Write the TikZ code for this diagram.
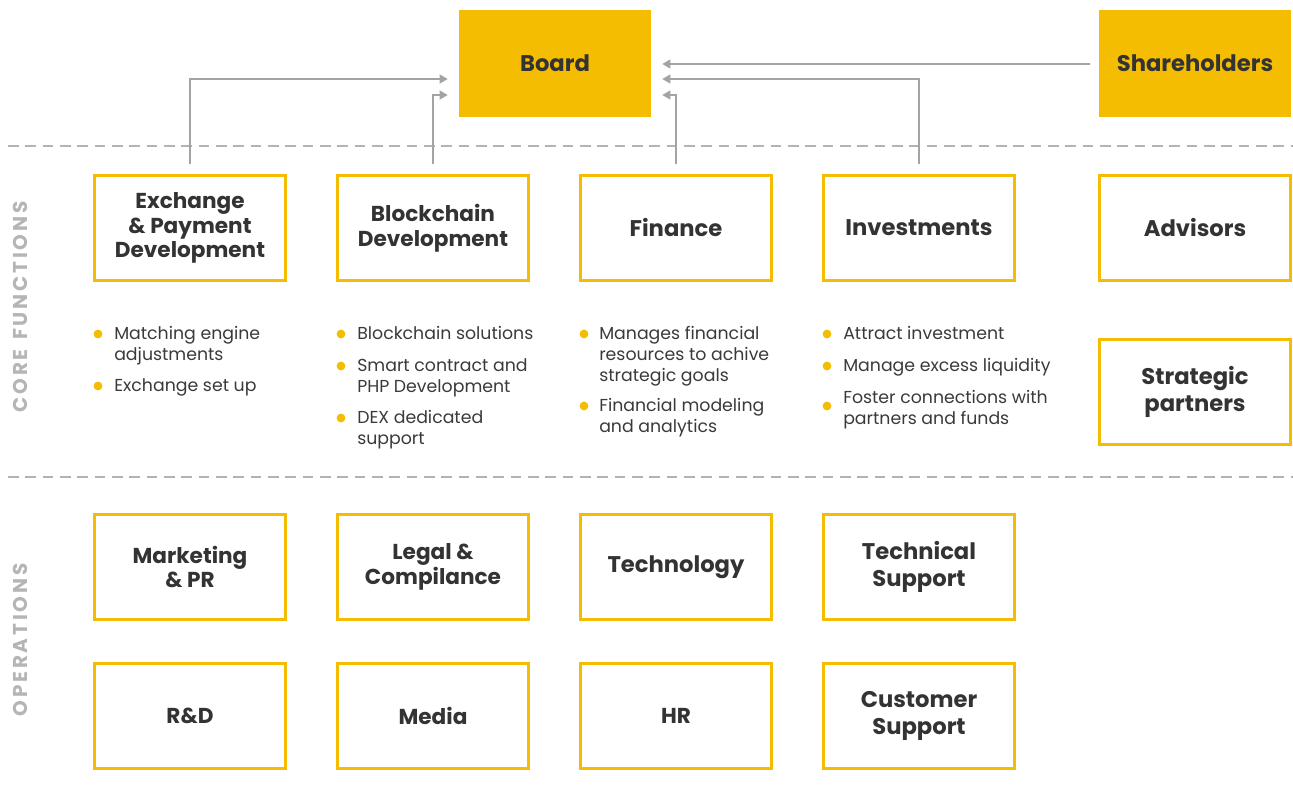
\documentclass[tikz,border=0pt]{standalone}
\usepackage{fontspec}
\setmainfont{Poppins}
\usetikzlibrary{arrows.meta,calc}

\definecolor{brandyellow}{HTML}{F5BD02}
\definecolor{ink}{HTML}{333333}
\definecolor{bodyink}{HTML}{3A3A3A}
\definecolor{linkgray}{HTML}{A3A3A3}
\definecolor{divgray}{HTML}{B3B3B3}
\definecolor{sidegray}{HTML}{B5B5B5}

\newcommand\boxfont{\bfseries\fontsize{16.2}{18.6}\selectfont}
\newcommand\bigboxfont{\bfseries\fontsize{17}{20}\selectfont}
\newcommand\itemfont{\fontsize{13}{15.75}\selectfont}
\newcommand\itemtext[1]{\parbox[t]{180pt}{\raggedright #1}}

\begin{document}
\begin{tikzpicture}[x=0.75pt,y=-0.75pt,
  unitbox/.style={draw=brandyellow,line width=2.25pt,minimum width=143.25pt,
    minimum height=78.75pt,inner sep=0pt,align=center,font=\boxfont,text=ink},
  bigunit/.style={unitbox,font=\bigboxfont},
  topbox/.style={fill=brandyellow,minimum width=144pt,minimum height=80.25pt,
    inner sep=0pt,align=center,font=\bigboxfont,text=ink},
  link/.style={draw=linkgray,line width=1.5pt,-{Triangle[width=6.5pt,length=6pt]}},
  divider/.style={draw=divgray,line width=1.1pt,dash pattern=on 8pt off 5pt},
  sidelabel/.style={rotate=90,text=sidegray,
    font=\bfseries\fontsize{15}{18}\selectfont\addfontfeatures{LetterSpace=14}},
  bullettext/.style={anchor=base west,inner sep=0pt,font=\itemfont,text=bodyink},
  dot/.style={fill=brandyellow},
]
\useasboundingbox (0,0) rectangle (1293,805);

% governance
\node[topbox] (board) at (555,63.5) {Board};
\node[topbox] (share) at (1195,63.5) {Shareholders};

% section dividers
\draw[divider] (8,146) -- (1293,146);
\draw[divider] (8,477) -- (1293,477);

% section labels
\node[sidelabel] (core) at (20,307) {CORE\hspace{7pt}FUNCTIONS};
\node[sidelabel] (ops) at (20,640) {OPERATIONS};

% core functions
\node[unitbox] (exch) at (190,228) {Exchange\\\& Payment\\Development};
\node[unitbox] (chain) at (433,228) {Blockchain\\Development};
\node[bigunit] (fin) at (676,228) {Finance};
\node[bigunit] (inv) at (919,228) {Investments};
\node[bigunit] (adv) at (1195,228) {Advisors};
\node[bigunit] (strat) at (1195,392) {Strategic\\partners};

% operations
\node[unitbox] (mkt) at (190,567) {Marketing\\\& PR};
\node[unitbox] (legal) at (433,567) {Legal \&\\Compilance};
\node[bigunit] (tech) at (676,567) {Technology};
\node[bigunit] (techsup) at (919,567) {Technical\\Support};
\node[unitbox] (rnd) at (190,716) {R\&D};
\node[unitbox] (media) at (433,716) {Media};
\node[unitbox] (hr) at (676,716) {HR};
\node[bigunit] (custsup) at (919,716) {Customer\\Support};

% reporting lines into the board
\draw[link] ([yshift=7.5pt]exch.north) |- ($(board.west)+(-11,15.5)$);
\draw[link] ([yshift=7.5pt]chain.north) |- ($(board.west)+(-11,31.5)$);
\draw[link] ([yshift=7.5pt]fin.north) |- ($(board.east)+(11,31.5)$);
\draw[link] ([yshift=7.5pt]inv.north) |- ($(board.east)+(11,15.5)$);
\draw[link] ($(share.west)+(-9,0.5)$) -- ($(board.east)+(11,0.5)$);

% exchange & payment duties
\fill[dot] (98,334) circle (3.3pt);
\node[bullettext] (ex1) at (114,340) {\itemtext{Matching engine\\adjustments}};
\fill[dot] (98,386) circle (3.3pt);
\node[bullettext] (ex2) at (114,392) {\itemtext{Exchange set up}};

% blockchain duties
\fill[dot] (341,334) circle (3.3pt);
\node[bullettext] (bc1) at (357,340) {\itemtext{Blockchain solutions}};
\fill[dot] (341,366) circle (3.3pt);
\node[bullettext] (bc2) at (357,372) {\itemtext{Smart contract and\\PHP Development}};
\fill[dot] (341,418) circle (3.3pt);
\node[bullettext] (bc3) at (357,424) {\itemtext{DEX dedicated\\support}};

% finance duties
\fill[dot] (584,334) circle (3.3pt);
\node[bullettext] (fi1) at (599,340) {\itemtext{Manages financial\\resources to achive\\strategic goals}};
\fill[dot] (584,406) circle (3.3pt);
\node[bullettext] (fi2) at (599,412) {\itemtext{Financial modeling\\and analytics}};

% investment duties
\fill[dot] (827,334) circle (3.3pt);
\node[bullettext] (in1) at (843,340) {\itemtext{Attract investment}};
\fill[dot] (827,366) circle (3.3pt);
\node[bullettext] (in2) at (843,372) {\itemtext{Manage excess liquidity}};
\fill[dot] (827,406) circle (3.3pt);
\node[bullettext] (in3) at (843,404) {\itemtext{Foster connections with\\partners and funds}};
\end{tikzpicture}
\end{document}
